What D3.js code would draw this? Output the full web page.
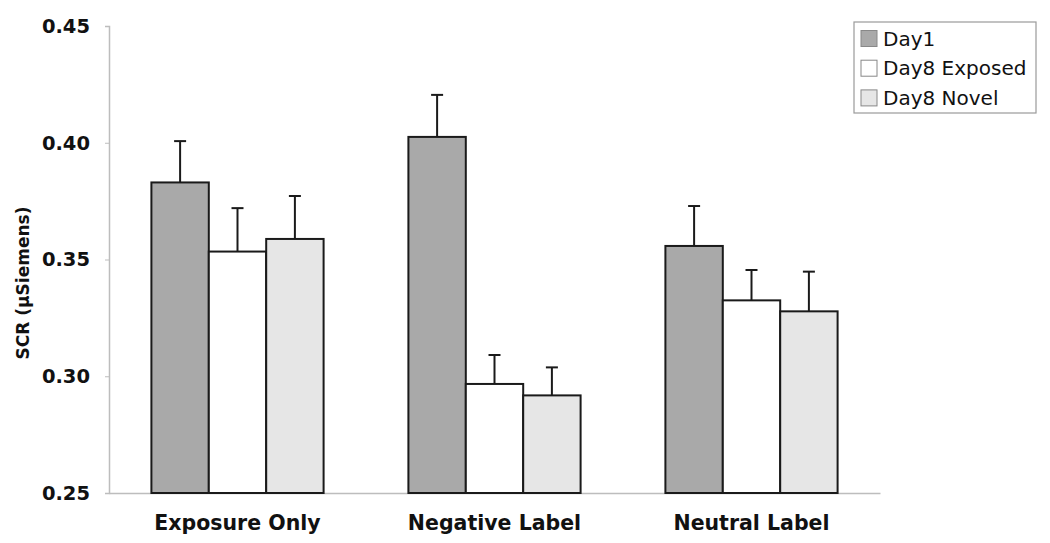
<!DOCTYPE html>
<html><head><meta charset="utf-8">
<script src="https://cdn.jsdelivr.net/npm/d3@7"></script>
<style>body{margin:0;background:#fff;}svg{display:block;}</style>
</head><body>
<svg id="chart" width="1050" height="543"></svg>
<script>
const categories = ["Exposure Only", "Negative Label", "Neutral Label"];
const seriesNames = ["Day1", "Day8 Exposed", "Day8 Novel"];
const day1 = [0.383, 0.4025, 0.3558];
const day8Exposed = [0.3534, 0.2967, 0.3325];
const day8Novel = [0.3588, 0.2918, 0.3278];
const day1Err = [0.0177, 0.018, 0.0171];
const day8ExposedErr = [0.0186, 0.0124, 0.013];
const day8NovelErr = [0.0184, 0.012, 0.017];
const yTicks = [0.25, 0.30, 0.35, 0.40, 0.45];

const series = [
  {name: seriesNames[0], values: day1, errs: day1Err, fill: "#a9a9a9"},
  {name: seriesNames[1], values: day8Exposed, errs: day8ExposedErr, fill: "#ffffff"},
  {name: seriesNames[2], values: day8Novel, errs: day8NovelErr, fill: "#e6e6e6"}
];

const svg = d3.select("#chart");
const mLeft = 109, mRight = 880, mTop = 26, mBottom = 493;

const x0 = d3.scaleBand().domain(categories).range([mLeft, mRight]).paddingInner(0.33).paddingOuter(0.165);
const x1 = d3.scaleBand().domain(seriesNames).range([0, x0.bandwidth()]);
const y = d3.scaleLinear().domain([0.25, 0.45]).range([mBottom, mTop]);

// y axis
const yAxis = svg.append("g").attr("transform", `translate(${mLeft},0)`)
  .call(d3.axisLeft(y).tickValues(yTicks).tickFormat(d3.format(".2f")).tickSize(4).tickPadding(15));
yAxis.select(".domain").attr("stroke", "#bdbdbd").attr("stroke-width", 1.5);
yAxis.selectAll(".tick line").attr("stroke", "#bdbdbd");
yAxis.selectAll("text").attr("font-family", "DejaVu Sans").attr("font-weight", "bold")
  .attr("font-size", 19.5).attr("fill", "#111");

// x axis
const xAxis = svg.append("g").attr("transform", `translate(0,${mBottom})`)
  .call(d3.axisBottom(x0).tickSize(0).tickPadding(22));
xAxis.select(".domain").attr("stroke", "#bdbdbd").attr("stroke-width", 1.5);
xAxis.selectAll("text").attr("font-family", "DejaVu Sans").attr("font-weight", "bold")
  .attr("font-size", 20.5).attr("fill", "#111");

// y title
svg.append("text").attr("transform", `translate(29,283) rotate(-90)`)
  .attr("text-anchor", "middle").attr("font-family", "DejaVu Sans").attr("font-weight", "bold")
  .attr("font-size", 17).attr("fill", "#111").text("SCR (µSiemens)");

// bars
const groups = svg.append("g").selectAll("g").data(series).join("g");
groups.selectAll("rect").data(s => s.values.map((v, i) => ({s, v, c: categories[i], e: s.errs[i]})))
  .join("rect")
  .attr("x", d => x0(d.c) + x1(d.s.name))
  .attr("y", d => y(d.v))
  .attr("width", x1.bandwidth())
  .attr("height", d => mBottom - y(d.v))
  .attr("fill", d => d.s.fill)
  .attr("stroke", "#1a1a1a").attr("stroke-width", 2);

// error bars
const eb = svg.append("g").attr("stroke", "#1a1a1a").attr("stroke-width", 2);
series.forEach(s => {
  s.values.forEach((v, i) => {
    const cx = x0(categories[i]) + x1(s.name) + x1.bandwidth() / 2;
    eb.append("line").attr("x1", cx).attr("x2", cx).attr("y1", y(v)).attr("y2", y(v + s.errs[i]));
    eb.append("line").attr("x1", cx - 6).attr("x2", cx + 6).attr("y1", y(v + s.errs[i])).attr("y2", y(v + s.errs[i]));
  });
});

// legend
const lg = svg.append("g").attr("transform", "translate(854,22)");
lg.append("rect").attr("width", 182).attr("height", 91).attr("fill", "#fff")
  .attr("stroke", "#9a9a9a").attr("stroke-width", 1.2);
series.forEach((s, i) => {
  const row = lg.append("g").attr("transform", `translate(7,${16.5 + i * 29.7})`);
  row.append("rect").attr("x", 0).attr("y", -8).attr("width", 16).attr("height", 16)
    .attr("fill", s.fill).attr("stroke", "#888").attr("stroke-width", 1);
  row.append("text").attr("x", 22).attr("y", 7).attr("font-family", "DejaVu Sans")
    .attr("font-size", 20).attr("fill", "#111").text(s.name);
});
</script>
</body></html>
